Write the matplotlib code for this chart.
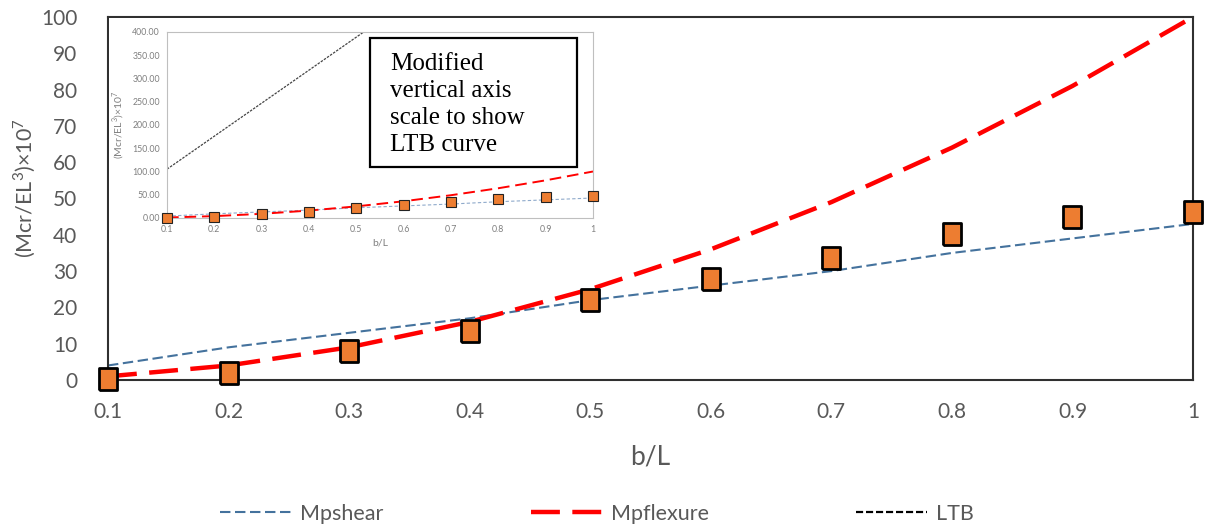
import numpy as np
import matplotlib
matplotlib.use("Agg")
import matplotlib.pyplot as plt
from matplotlib.patches import Rectangle

plt.rcParams['font.family'] = ['Lato', 'DejaVu Sans']
plt.rcParams['mathtext.fontset'] = 'custom'
plt.rcParams['mathtext.rm'] = 'Lato'

# data
bL = [0.1, 0.2, 0.3, 0.4, 0.5, 0.6, 0.7, 0.8, 0.9, 1.0]
mp_shear = [4, 9, 13, 17, 22, 26, 30, 35, 39, 43]
mp_flexure = [1, 4, 9, 16, 25, 36, 49, 64, 81, 100]
ltb = [105, 176, 247, 318, 389, 460, 531, 602, 673, 744]
mcr_test = [0.3, 2.0, 8.0, 13.5, 22.0, 27.7, 33.5, 40.3, 44.8, 46.3]
xlabels = ['0.1', '0.2', '0.3', '0.4', '0.5', '0.6', '0.7', '0.8', '0.9', '1']

W, H = 1208, 527
fig = plt.figure(figsize=(W/100, H/100), dpi=100)

def box(l, t, r, b):
    return [l/W, 1-b/H, (r-l)/W, (b-t)/H]

grey = '#595959'
c_shear = '#44729D'
c_flex = '#FF0000'
c_mark = '#ED7D31'
rect_mark = [(-0.85, -1), (0.85, -1), (0.85, 1), (-0.85, 1), (-0.85, -1)]

# main chart
ax = fig.add_axes(box(108, 17, 1193, 380))
ax.plot(bL, mp_shear, color=c_shear, lw=1.5, dashes=(5, 2.2), label='Mpshear')
ax.plot(bL, mp_flexure, color=c_flex, lw=3.2, dashes=(6.5, 2.8), label='Mpflexure')
ax.plot(bL, ltb, color='black', lw=1.6, dashes=(3.2, 1.3), label='LTB')
ax.plot(bL, mcr_test, ls='none', marker=rect_mark, ms=15.5, mfc=c_mark, mec='black',
        mew=2, clip_on=False, zorder=5)
ax.set_xlim(0.1, 1)
ax.set_ylim(0, 100)
ax.set_xticks(bL)
ax.set_xticklabels(xlabels)
ax.set_yticks(range(0, 101, 10))
ax.tick_params(length=0, labelsize=15, labelcolor=grey)
ax.tick_params(axis='x', pad=16)
ax.tick_params(axis='y', pad=22)
for s in ax.spines.values():
    s.set_color('#303030')
    s.set_linewidth(1.5)
ax.set_xlabel('b/L', fontsize=19, color=grey, labelpad=16)
ax.set_ylabel(r'(Mcr/EL$^3$)×10$^7$', fontsize=15.5, color=grey)
ax.yaxis.set_label_coords((38-108)/1085, 0.53)

fig.legend(loc='center', bbox_to_anchor=(597/W, 1-514/H), ncol=3, frameon=False,
           fontsize=15.5, labelcolor=grey, handlelength=3.3, handletextpad=0.4,
           columnspacing=6.85)

# inset: copy of chart with wider vertical scale
fig.patches.append(Rectangle((109/W, 1-252/H), (600-109)/W, (252-18)/H,
                             transform=fig.transFigure, facecolor='white',
                             edgecolor='none', zorder=3))
ins = fig.add_axes(box(167, 32, 593, 218), zorder=4)
ins.plot(bL, mp_shear, color='#8FAACB', lw=0.8, dashes=(3, 2))
ins.plot(bL, mp_flexure, color=c_flex, lw=1.4, dashes=(6, 3))
ins.plot(bL, ltb, color='#444444', lw=0.9, dashes=(2, 1))
ins.plot(bL, mcr_test, ls='none', marker='s', ms=7, mfc=c_mark, mec='#222222',
         mew=0.8, clip_on=False, zorder=5)
ins.set_xlim(0.1, 1)
ins.set_ylim(0, 400)
ins.set_xticks(bL)
ins.set_xticklabels(xlabels)
ins.set_yticks(range(0, 401, 50))
ins.set_yticklabels(['%.2f' % v for v in range(0, 401, 50)])
ins.tick_params(length=0, labelsize=6.3, labelcolor='#7F7F7F', pad=5)
for s in ins.spines.values():
    s.set_color('#BFBFBF')
    s.set_linewidth(0.8)
ins.set_xlabel('b/L', fontsize=7.5, color='#7F7F7F', labelpad=3)
ins.set_ylabel(r'(Mcr/EL$^3$)×10$^7$', fontsize=7.5, color='#7F7F7F', labelpad=4)

# note box
fig.patches.append(Rectangle((370/W, 1-167/H), (577-370)/W, (167-38)/H,
                             transform=fig.transFigure, facecolor='white',
                             edgecolor='black', lw=1.6, zorder=6))
fig.text(390/W, 1-53/H, 'Modified\nvertical axis\nscale to show\nLTB curve',
         family='Liberation Serif', fontsize=18, va='top', ha='left',
         linespacing=1.3, zorder=7)

fig.savefig('out.png', dpi=100)
